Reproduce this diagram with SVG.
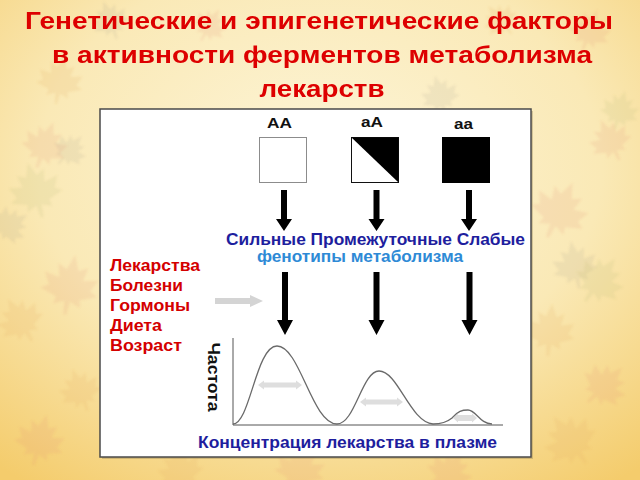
<svg xmlns="http://www.w3.org/2000/svg" xmlns:xlink="http://www.w3.org/1999/xlink" width="640" height="480" viewBox="0 0 640 480">
<defs>
<radialGradient id="bg" cx="50%" cy="35%" r="80%">
<stop offset="0" stop-color="#fdf5d8"/>
<stop offset="0.55" stop-color="#fae9b6"/>
<stop offset="1" stop-color="#f4cc6c"/>
</radialGradient>
<filter id="soft" x="-20%" y="-20%" width="140%" height="140%"><feGaussianBlur stdDeviation="1.2"/></filter>
<path id="leaf" d="M0,-20 L4,-10 L10,-13 L8,-4 L18,-6 L14,2 L19,5 L8,9 L9,14 L2,11 L1,20 L-1,20 L-2,11 L-9,14 L-8,9 L-19,5 L-14,2 L-18,-6 L-8,-4 L-10,-13 L-4,-10 Z"/>
<style>
.title{font-family:"Liberation Sans",Arial,sans-serif;font-weight:bold;font-size:24px;fill:#dd0000;text-anchor:middle}
.geno{font-family:"Liberation Sans",Arial,sans-serif;font-weight:bold;font-size:15px;fill:#111}
.factor{font-family:"Liberation Sans",Arial,sans-serif;font-weight:bold;font-size:16px;fill:#d40000}
.dblue{font-family:"Liberation Sans",Arial,sans-serif;font-weight:bold;font-size:16px;fill:#1e1e9e}
.lblue{font-family:"Liberation Sans",Arial,sans-serif;font-weight:bold;font-size:16px;fill:#2e8ad6}
.axis{font-family:"Liberation Sans",Arial,sans-serif;font-weight:bold;font-size:16px;fill:#111}
.arrow{fill:#000}
.garrow{fill:#d4d4d4}
.garrow2{fill:#dedede}
.curve{fill:none;stroke:#6a6a6a;stroke-width:1.3}
.ax{fill:none;stroke:#555;stroke-width:1}
.lf1{fill:#e49070;opacity:0.14}
.lf2{fill:#b8b870;opacity:0.14}
.lf3{fill:#e8b060;opacity:0.16}
.lf4{fill:#a09080;opacity:0.12}
</style>
</defs>

<g id="background">
<rect x="0" y="0" width="640" height="480" fill="url(#bg)"/>
<g filter="url(#soft)">
<use xlink:href="#leaf" class="lf1" transform="translate(45,145) rotate(20) scale(1.2)"/>
<use xlink:href="#leaf" class="lf2" transform="translate(35,190) rotate(-15) scale(1.4)"/>
<use xlink:href="#leaf" class="lf4" transform="translate(70,150) rotate(40) scale(0.9)"/>
<use xlink:href="#leaf" class="lf1" transform="translate(70,285) rotate(10) scale(1.5)"/>
<use xlink:href="#leaf" class="lf3" transform="translate(20,320) rotate(-30) scale(1.2)"/>
<use xlink:href="#leaf" class="lf4" transform="translate(10,225) rotate(60) scale(1)"/>
<use xlink:href="#leaf" class="lf1" transform="translate(40,440) rotate(15) scale(1.3)"/>
<use xlink:href="#leaf" class="lf3" transform="translate(80,390) rotate(-20) scale(1.1)"/>
<use xlink:href="#leaf" class="lf1" transform="translate(560,210) rotate(25) scale(1.5)"/>
<use xlink:href="#leaf" class="lf4" transform="translate(575,265) rotate(-10) scale(1.2)"/>
<use xlink:href="#leaf" class="lf2" transform="translate(600,280) rotate(35) scale(1.3)"/>
<use xlink:href="#leaf" class="lf1" transform="translate(610,140) rotate(-25) scale(1.1)"/>
<use xlink:href="#leaf" class="lf3" transform="translate(550,330) rotate(5) scale(1.3)"/>
<use xlink:href="#leaf" class="lf1" transform="translate(605,385) rotate(45) scale(1.2)"/>
<use xlink:href="#leaf" class="lf3" transform="translate(570,440) rotate(-35) scale(1.4)"/>
<use xlink:href="#leaf" class="lf2" transform="translate(620,110) rotate(15) scale(1)"/>
<use xlink:href="#leaf" class="lf4" transform="translate(110,20) rotate(-20) scale(1)"/>
<use xlink:href="#leaf" class="lf1" transform="translate(210,25) rotate(30) scale(0.9)"/>
<use xlink:href="#leaf" class="lf3" transform="translate(60,80) rotate(10) scale(1.2)"/>
<use xlink:href="#leaf" class="lf4" transform="translate(440,95) rotate(-15) scale(1)"/>
<use xlink:href="#leaf" class="lf1" transform="translate(590,30) rotate(20) scale(1.1)"/>
<use xlink:href="#leaf" class="lf3" transform="translate(500,20) rotate(-40) scale(0.9)"/>
<use xlink:href="#leaf" class="lf1" transform="translate(300,468) rotate(10) scale(1.3)"/>
<use xlink:href="#leaf" class="lf3" transform="translate(180,470) rotate(-20) scale(1.2)"/>
<use xlink:href="#leaf" class="lf1" transform="translate(450,472) rotate(30) scale(1.2)"/>
</g>
</g>

<g id="title">
<text class="title" x="319" y="29" textLength="588" lengthAdjust="spacingAndGlyphs">Генетические и эпигенетические факторы</text>
<text class="title" x="322" y="63" textLength="540" lengthAdjust="spacingAndGlyphs">в активности ферментов метаболизма</text>
<text class="title" x="322" y="97" textLength="125" lengthAdjust="spacingAndGlyphs">лекарств</text>
</g>

<g id="panel">
<rect x="102" y="111" width="431" height="348" fill="#8a7a50" opacity="0.35"/>
<rect x="100" y="109" width="431" height="348" fill="#ffffff" stroke="#4a4a4a" stroke-width="1.5"/>
</g>

<g id="genotype-AA">
<text class="geno" x="267" y="128" textLength="25" lengthAdjust="spacingAndGlyphs">AA</text>
<rect x="259.5" y="137.5" width="47" height="45" fill="#fff" stroke="#8c8c8c" stroke-width="1"/>
</g>
<g id="genotype-aA">
<text class="geno" x="361" y="127" textLength="22" lengthAdjust="spacingAndGlyphs">aA</text>
<rect x="351.5" y="137.5" width="47" height="45" fill="#fff" stroke="#111" stroke-width="1"/>
<polygon points="351.5,137.5 398.5,137.5 398.5,182.5" fill="#000"/>
</g>
<g id="genotype-aa">
<text class="geno" x="454" y="129" textLength="19" lengthAdjust="spacingAndGlyphs">aa</text>
<rect x="442" y="137" width="48" height="46" fill="#000"/>
</g>

<g id="phenotypes">
<text class="dblue" x="226" y="245" textLength="299" lengthAdjust="spacingAndGlyphs">Сильные Промежуточные Слабые</text>
<text class="lblue" x="257" y="262" textLength="206" lengthAdjust="spacingAndGlyphs">фенотипы метаболизма</text>
</g>

<g id="factors">
<text class="factor" x="110" y="271" textLength="90" lengthAdjust="spacingAndGlyphs">Лекарства</text>
<text class="factor" x="110" y="291" textLength="73" lengthAdjust="spacingAndGlyphs">Болезни</text>
<text class="factor" x="110" y="311" textLength="80" lengthAdjust="spacingAndGlyphs">Гормоны</text>
<text class="factor" x="110" y="331" textLength="52" lengthAdjust="spacingAndGlyphs">Диета</text>
<text class="factor" x="110" y="351" textLength="72" lengthAdjust="spacingAndGlyphs">Возраст</text>
</g>

<g id="chart">
<path class="ax" d="M233,338 L233,425 L503,425"/>
<path class="curve" d="M233,424 C250,424 256,346 277,346 C300,346 312,424 337,424 C355,424 362,371 379,371 C398,371 410,422 433,424 C440,424 446,423 452,418 C458,411 462,410 468,410 C476,410 480,424 492,424"/>
<path class="garrow2" d="M258,385 L264,380.5 L264,382.5 L296,382.5 L296,380.5 L302,385 L296,389.5 L296,387.5 L264,387.5 L264,389.5 Z"/>
<path class="garrow2" d="M360,402 L366,397.5 L366,399.5 L397,399.5 L397,397.5 L403,402 L397,406.5 L397,404.5 L366,404.5 L366,406.5 Z"/>
<path class="garrow2" d="M453,418 L458,413.5 L458,415 L472,415 L472,413.5 L477,418 L472,422.5 L472,421 L458,421 L458,422.5 Z"/>
<text class="axis" x="208" y="377" text-anchor="middle" transform="rotate(90 208 377)" textLength="69" lengthAdjust="spacingAndGlyphs">Частота</text>
<text class="dblue" x="198" y="448" textLength="299" lengthAdjust="spacingAndGlyphs">Концентрация лекарства в плазме</text>
</g>

<g id="connectors">
<polygon class="arrow" points="281,190 287,190 287,219 292,219 284,231 276,219 281,219"/>
<polygon class="arrow" points="373.5,190 379.5,190 379.5,219 384.5,219 376.5,231 368.5,219 373.5,219"/>
<polygon class="arrow" points="466,190 472,190 472,219 477,219 469,231 461,219 466,219"/>
<polygon class="arrow" points="282,272 288,272 288,320 293,320 285,335 277,320 282,320"/>
<polygon class="arrow" points="373.5,272 379.5,272 379.5,320 384.5,320 376.5,335 368.5,320 373.5,320"/>
<polygon class="arrow" points="466.5,272 472.5,272 472.5,320 477.5,320 469.5,335 461.5,320 466.5,320"/>
<polygon class="garrow" points="215,298 250,298 250,295 263,301 250,307 250,304 215,304"/>
</g>
</svg>
